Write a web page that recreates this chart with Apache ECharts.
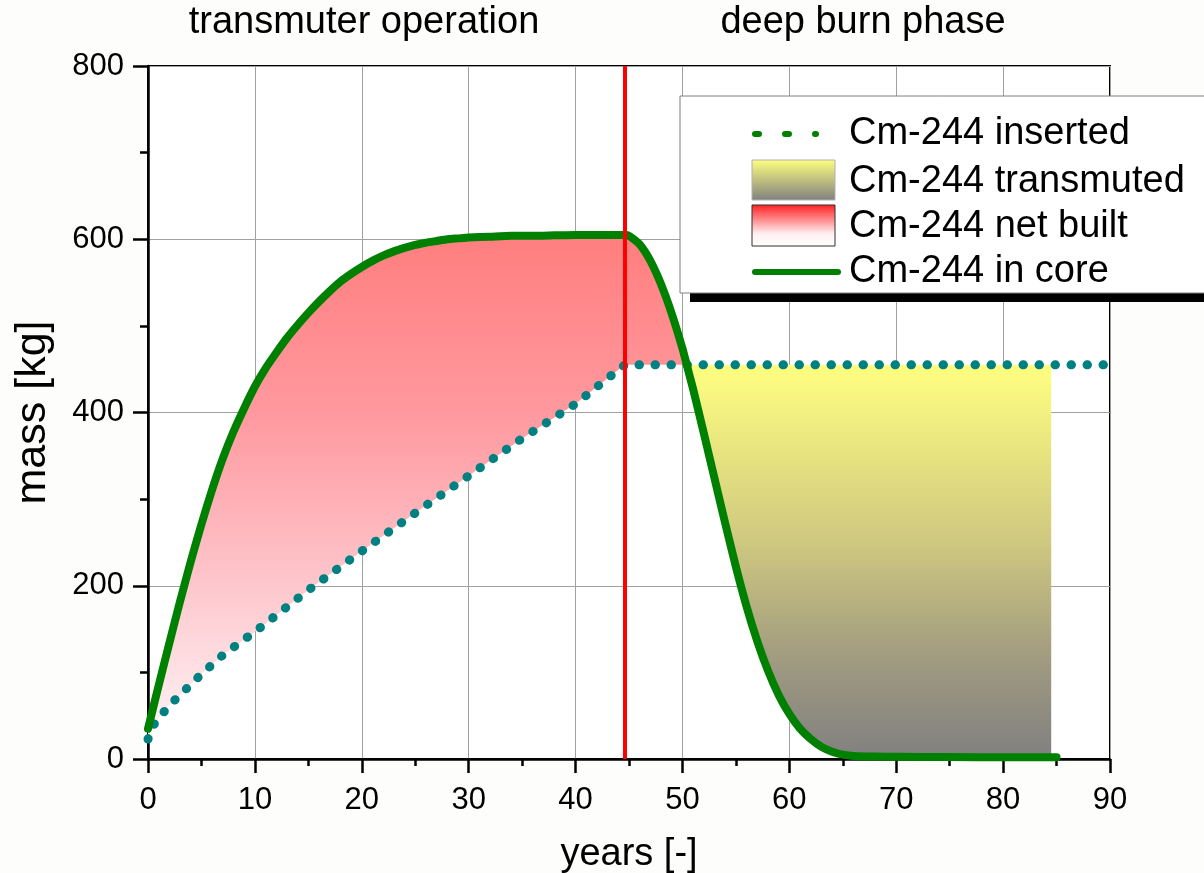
<!DOCTYPE html>
<html><head><meta charset="utf-8">
<script src="https://cdn.jsdelivr.net/npm/echarts@6/dist/echarts.min.js"></script>
<style>html,body{margin:0;padding:0;background:#fdfdfb;}#c{width:1204px;height:873px;}</style>
</head><body><div id="c"></div><script>
// ---- data ----
const phaseLabels = ['transmuter operation', 'deep burn phase'];
const legendLabels = ['Cm-244 inserted', 'Cm-244 transmuted', 'Cm-244 net built', 'Cm-244 in core'];
const xTickLabels = ['0','10','20','30','40','50','60','70','80','90'];
const yTickLabels = ['0','200','400','600','800'];

const coreYears = [0,1,2,3,4,5,6,7,8,9,10,11,12,13,14,15,16,17,18,19,20,21,22,23,24,25,26,27,28,29,30,32,34,36,38,40,42,44.6,45,46,47,48,49,50,50.4,51,52,53,54,55,56,57,58,59,60,61,62,63,64,65,66,68,70,75,80,85];
const coreMass  = [35,85,134,182,228,271,311,347,378,405,430,451,469,486,501,515,528,540,551,560,568,575,581,586,590,593.5,596,598,600,601,602,603,604,604,604.5,605,605,605,604,594,575,548,514,474,455,427,376,324,272,222,176,136,102,74,52,35,23,14,8.5,5,3.5,2.8,2.5,2.2,2,2];

const insertedYears = [0,0.5,1,2,3,4,5,7,10,12,15,20,25,30,35,40,44.6,90];
const insertedMass  = [23,39,47,62,74,86,98,120,147,166,195,240,284,327,370,410,455,455];

const phaseSwitchYear = 44.6;
const crossYear = 50.4;
const transmutedLevel = 455;
const fillEndYear = 84.5;
const fillEndMass = 2;

const FONT = "'Liberation Sans', Arial, sans-serif";
const chart = echarts.init(document.getElementById('c'), null, {renderer: 'canvas'});

const corePts = coreYears.map((x, i) => [x, coreMass[i]]);
const insPts = insertedYears.map((x, i) => [x, insertedMass[i]]);

function redArea(params, api) {
  const pts = [];
  corePts.filter(p => p[0] <= crossYear).forEach(p => pts.push(api.coord(p)));
  pts.push(api.coord([crossYear, transmutedLevel]));
  insPts.filter(p => p[0] < crossYear).reverse().forEach(p => pts.push(api.coord(p)));
  const top = api.coord([0, 605])[1], bot = api.coord([0, 0])[1];
  return {type: 'polygon', shape: {points: pts, smooth: 0}, style: {
    fill: new echarts.graphic.LinearGradient(0, top, 0, bot, [
      {offset: 0, color: '#ff7e7e'}, {offset: 0.35, color: '#ff9aa0'},
      {offset: 0.65, color: '#fdc4ca'}, {offset: 1, color: '#fffafb'}], true)}};
}
function yellowArea(params, api) {
  const pts = [];
  pts.push(api.coord([crossYear, transmutedLevel]));
  pts.push(api.coord([fillEndYear, transmutedLevel]));
  pts.push(api.coord([fillEndYear, fillEndMass]));
  corePts.filter(p => p[0] >= crossYear && p[0] <= fillEndYear).reverse().forEach(p => pts.push(api.coord(p)));
  const top = api.coord([0, transmutedLevel])[1], bot = api.coord([0, 0])[1];
  return {type: 'polygon', shape: {points: pts}, style: {
    fill: new echarts.graphic.LinearGradient(0, top, 0, bot, [
      {offset: 0, color: '#ffff80'}, {offset: 0.45, color: '#cfc880'},
      {offset: 0.75, color: '#a09a80'}, {offset: 1, color: '#808080'}], true)}};
}
function dottedLine(params, api) {
  return {type: 'polyline', shape: {points: insPts.map(p => api.coord(p))},
    style: {stroke: '#008080', lineWidth: 9, lineCap: 'round', lineJoin: 'round', lineDash: [0.5, 15.5], fill: null}};
}

const legendX = 680, legendY = 96;
const graphics = [
  {type: 'text', style: {x: 364, y: 23, text: phaseLabels[0], font: '38px ' + FONT, fill: '#000', textAlign: 'center', textVerticalAlign: 'middle'}},
  {type: 'text', style: {x: 863, y: 23, text: phaseLabels[1], font: '38px ' + FONT, fill: '#000', textAlign: 'center', textVerticalAlign: 'middle'}},
  {type: 'rect', z: 100, shape: {x: legendX + 10, y: legendY + 9, width: 600, height: 197}, style: {fill: '#000'}},
  {type: 'rect', z: 101, shape: {x: legendX, y: legendY, width: 600, height: 197}, style: {fill: '#fff', stroke: '#808080', lineWidth: 1}},
  {type: 'line', z: 102, shape: {x1: 755, y1: 134, x2: 816, y2: 134}, style: {stroke: '#008000', lineWidth: 6, lineCap: 'round', lineDash: [4, 26]}},
  {type: 'rect', z: 102, shape: {x: 752, y: 160, width: 83, height: 40}, style: {stroke: '#b0b0b0', lineWidth: 1,
    fill: new echarts.graphic.LinearGradient(0, 0, 0, 1, [{offset: 0, color: '#ffff80'}, {offset: 1, color: '#808080'}])}},
  {type: 'rect', z: 102, shape: {x: 752, y: 205, width: 83, height: 41}, style: {stroke: '#303030', lineWidth: 1,
    fill: new echarts.graphic.LinearGradient(0, 0, 0, 1, [{offset: 0, color: '#ff2020'}, {offset: 0.7, color: '#fff0f2'}, {offset: 1, color: '#ffffff'}])}},
  {type: 'line', z: 102, shape: {x1: 755, y1: 272, x2: 838, y2: 272}, style: {stroke: '#008000', lineWidth: 6, lineCap: 'round'}}
];
const legendTextY = [134, 182, 227, 272];
legendLabels.forEach((t, i) => graphics.push({type: 'text', z: 103, style: {x: 849, y: legendTextY[i], text: t, font: '38px ' + FONT, fill: '#000', textVerticalAlign: 'middle'}}));

chart.setOption({
  animation: false,
  backgroundColor: '#fdfdfb',
  grid: {left: 148, right: 94, top: 66, bottom: 114, containLabel: false, outerBoundsMode: 'none',
    show: true, backgroundColor: '#ffffff', borderColor: '#000', borderWidth: 2},
  xAxis: {
    type: 'value', min: 0, max: 90, interval: 10,
    name: 'years [-]', nameLocation: 'middle', nameGap: 77,
    nameTextStyle: {fontFamily: FONT, fontSize: 38, color: '#000'},
    axisLine: {show: true, onZero: false, lineStyle: {color: '#000', width: 2.5}},
    axisTick: {show: true, inside: false, length: 14, lineStyle: {color: '#000', width: 2.5}},
    minorTick: {show: true, splitNumber: 2, length: 7, lineStyle: {color: '#000', width: 2.5}},
    axisLabel: {margin: 26, fontFamily: FONT, fontSize: 31, color: '#000', formatter: v => xTickLabels[Math.round(v / 10)]},
    splitLine: {show: true, lineStyle: {color: '#a0a0a0', width: 1}}
  },
  yAxis: {
    type: 'value', min: 0, max: 800, interval: 200,
    name: 'mass [kg]', nameLocation: 'middle', nameGap: 93, nameRotate: 90,
    nameTextStyle: {fontFamily: FONT, fontSize: 43, color: '#000'},
    axisLine: {show: true, onZero: false, lineStyle: {color: '#000', width: 2.5}},
    axisTick: {show: true, inside: false, length: 15, lineStyle: {color: '#000', width: 2.5}},
    minorTick: {show: true, splitNumber: 2, length: 8, lineStyle: {color: '#000', width: 2.5}},
    axisLabel: {margin: 24, fontFamily: FONT, fontSize: 31, color: '#000', formatter: v => yTickLabels[Math.round(v / 200)]},
    splitLine: {show: true, lineStyle: {color: '#a0a0a0', width: 1}}
  },
  series: [
    {type: 'custom', name: legendLabels[2], renderItem: redArea, data: [[0, 0]], z: 1, silent: true},
    {type: 'custom', name: legendLabels[1], renderItem: yellowArea, data: [[0, 0]], z: 1, silent: true},
    {type: 'custom', name: legendLabels[0], renderItem: dottedLine, data: [[0, 0]], z: 3, silent: true},
    {type: 'line', name: legendLabels[3], data: corePts, showSymbol: false, z: 4, smooth: 0.2,
     lineStyle: {color: '#008000', width: 8, cap: 'round', join: 'round'},
     markLine: {silent: true, symbol: 'none', label: {show: false}, z: 6,
       lineStyle: {color: '#ff0000', width: 4, type: 'solid'}, data: [{xAxis: phaseSwitchYear}]}}
  ],
  graphic: graphics
});
</script></body></html>
